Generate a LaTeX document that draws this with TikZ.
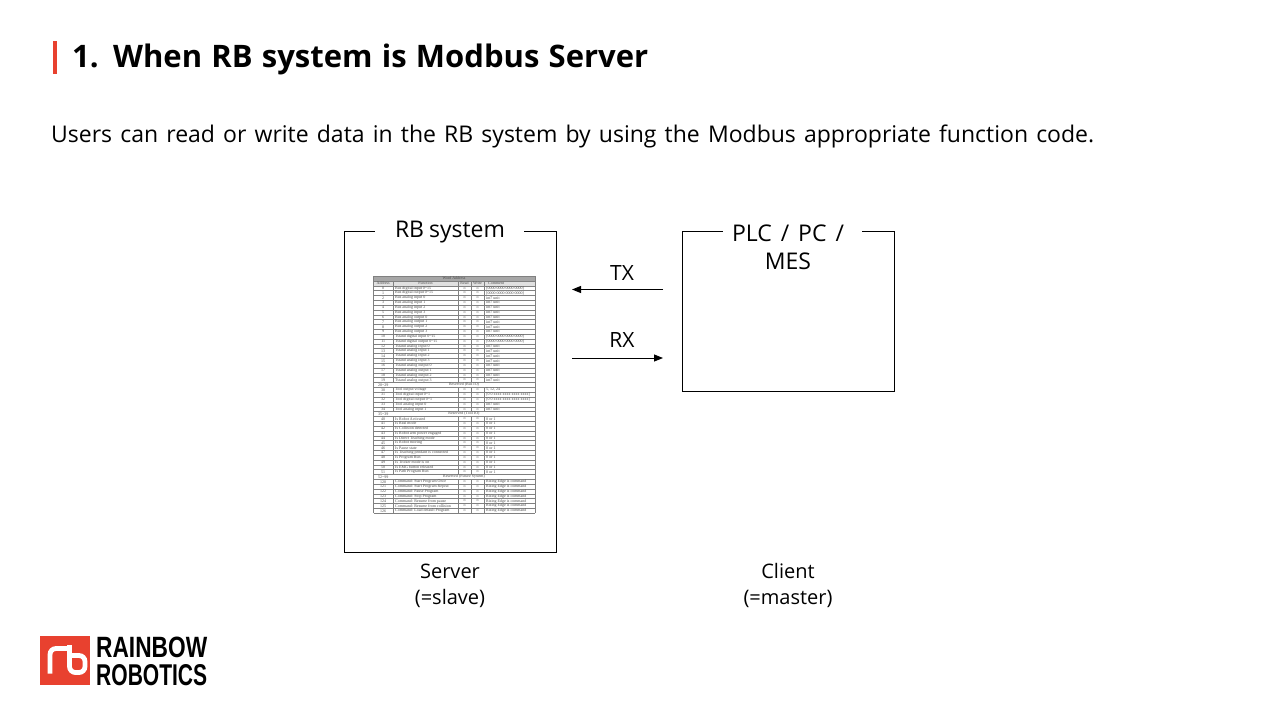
\documentclass[tikz,border=0pt]{standalone}
\usepackage{fontspec}
\setmainfont{Open Sans}
\newfontfamily\logofont{Liberation Sans}
\newfontfamily\tablefont{Liberation Serif}
\definecolor{rbred}{HTML}{E8412F}
\usetikzlibrary{arrows.meta}
\tikzset{
  label text/.style={font=\fontsize{23}{23}\selectfont,text=black,inner sep=0pt,anchor=base},
  small text/.style={font=\fontsize{20}{20}\selectfont,text=black,inner sep=0pt,anchor=base},
  frame/.style={draw=black,line width=0.9pt},
  gapfill/.style={fill=white,draw=none,inner sep=0pt},
  link/.style={draw=black,line width=0.9pt,-{Triangle[length=9pt,width=7pt]}},
  cell/.style={font=\tablefont\fontsize{4}{4}\selectfont,text=black!70,inner sep=0pt,anchor=center},
  cellw/.style={cell,anchor=west},
  grid/.style={draw=black!50,line width=0.3pt},
  logotext/.style={font=\logofont\bfseries,text=black,inner sep=0pt,anchor=north west},
  rbstroke/.style={draw=white,line width=4.8pt,line cap=butt,rounded corners=6pt}
}
\begin{document}
\begin{tikzpicture}[x=1pt,y=-1pt]
\useasboundingbox (0,0) rectangle (1280,720);
\fill[white] (0,0) rectangle (1280,720);

% heading
\fill[rbred] (52.7,41) rectangle (56.5,74);
\node[inner sep=0pt,anchor=base west,font=\fontsize{31}{31}\selectfont\bfseries] (title) at (72,67)
  {\makebox[576pt][s]{1. When RB system is Modbus Server}};
\node[inner sep=0pt,anchor=base west,font=\fontsize{23}{23}\selectfont] (intro) at (51,142)
  {\makebox[1043pt][s]{Users can read or write data in the RB system by using the Modbus appropriate function code.}};

% frames
\node[frame,minimum width=212pt,minimum height=321pt,inner sep=0pt,anchor=north west] (rb) at (344.2,231) {};
\node[frame,minimum width=212pt,minimum height=160pt,inner sep=0pt,anchor=north west] (plc) at (682.2,231) {};
\node[gapfill,minimum width=149pt,minimum height=6pt] (rbgap) at (449,231) {};
\node[gapfill,minimum width=139pt,minimum height=6pt] (plcgap) at (792.5,231) {};
\node[label text] (rblabel) at (450,237) {\makebox[110pt][s]{RB system}};
\node[label text] (plclabel) at (788,241) {\makebox[112pt][s]{PLC / PC /}};
\node[label text] (meslabel) at (788,269) {MES};

% connectors
\coordinate (txfrom) at (663,289.5);
\coordinate (txto) at (572,289.5);
\coordinate (rxfrom) at (572,358);
\coordinate (rxto) at (663,358);
\draw[link] (txfrom) -- (txto);
\draw[link] (rxfrom) -- (rxto);
\node[small text,font=\fontsize{21}{21}\selectfont] (txlabel) at (622,280) {TX};
\node[small text,font=\fontsize{21}{21}\selectfont] (rxlabel) at (622,347) {RX};

% captions
\node[small text] (server) at (450,578) {Server};
\node[small text] (slave) at (450,604) {(=slave)};
\node[small text] (client) at (788,578) {Client};
\node[small text] (master) at (788,604) {(=master)};

% register table
\fill[black!35] (373.5,276) rectangle (535,280.84);
\fill[black!12] (373.5,280.84) rectangle (535,285.68);
\foreach \i in {0,...,49}{
  \pgfmathsetmacro{\yy}{276+4.84*\i}
  \draw[grid] (373.5,\yy) -- (535,\yy);
}
\draw[grid] (373.5,276) -- (373.5,513.16);
\draw[grid] (535,276) -- (535,513.16);
\foreach \x in {393,458,471,484}{
  \draw[grid] (\x,280.84) -- (\x,382.48);
  \draw[grid] (\x,387.32) -- (\x,411.52);
  \draw[grid] (\x,416.36) -- (\x,474.44);
  \draw[grid] (\x,479.28) -- (\x,513.16);
}
\node[cell] (th0) at (454,278.42) {Word Address};
\node[cell] (th1) at (383.2,283.26) {Address};
\node[cell] (th2) at (425.5,283.26) {Function};
\node[cell] (th3) at (464.5,283.26) {Read};
\node[cell] (th4) at (477.5,283.26) {Write};
\node[cell] (th5) at (496,283.26) {Comment};
\foreach \r/\a/\f/\c in {
 2/0/{Bus digital input 0\textasciitilde15}/{[0000 0000 0000 0000]},
 3/1/{Bus digital output 0\textasciitilde15}/{[0000 0000 0000 0000]},
 4/2/{Bus analog input 0}/{int7 unit},
 5/3/{Bus analog input 1}/{int7 unit},
 6/4/{Bus analog input 2}/{int7 unit},
 7/5/{Bus analog input 3}/{int7 unit},
 8/6/{Bus analog output 0}/{int7 unit},
 9/7/{Bus analog output 1}/{int7 unit},
 10/8/{Bus analog output 2}/{int7 unit},
 11/9/{Bus analog output 3}/{int7 unit},
 12/10/{Tstand digital input 0\textasciitilde15}/{[0000 0000 0000 0000]},
 13/11/{Tstand digital output 0\textasciitilde15}/{[0000 0000 0000 0000]},
 14/12/{Tstand analog input 0}/{int7 unit},
 15/13/{Tstand analog input 1}/{int7 unit},
 16/14/{Tstand analog input 2}/{int7 unit},
 17/15/{Tstand analog input 3}/{int7 unit},
 18/16/{Tstand analog output 0}/{int7 unit},
 19/17/{Tstand analog output 1}/{int7 unit},
 20/18/{Tstand analog output 2}/{int7 unit},
 21/19/{Tstand analog output 3}/{int7 unit},
 23/30/{Tool output voltage}/{5, 12, 24},
 24/31/{Tool digital input 0\textasciitilde1}/{[0 0 xxxx xxxx xxxx xxxx]},
 25/32/{Tool digital output 0\textasciitilde1}/{[0 0 xxxx xxxx xxxx xxxx]},
 26/33/{Tool analog input 0}/{int7 unit},
 27/34/{Tool analog input 1}/{int7 unit},
 29/40/{Is Robot Activated}/{0 or 1},
 30/41/{Is Real mode}/{0 or 1},
 31/42/{Is Collision detected}/{0 or 1},
 32/43/{Is Robot arm power engaged}/{0 or 1},
 33/44/{Is Direct Teaching mode}/{0 or 1},
 34/45/{Is Robot moving}/{0 or 1},
 35/46/{Is Pause state}/{0 or 1},
 36/47/{Is Teaching pendant is connected}/{0 or 1},
 37/48/{Is Program Run}/{0 or 1},
 38/49/{Is Tricker mode is on}/{0 or 1},
 39/50/{Is EMG button released}/{0 or 1},
 40/51/{Is Path Program Run}/{0 or 1},
 42/120/{Command: Start Program Once}/{Rising Edge is command},
 43/121/{Command: Start Program Repeat}/{Rising Edge is command},
 44/122/{Command: Pause Program}/{Rising Edge is command},
 45/123/{Command: Stop Program}/{Rising Edge is command},
 46/124/{Command: Resume from pause}/{Rising Edge is command},
 47/125/{Command: Resume from collision}/{Rising Edge is command},
 48/126/{Command: Load default Program}/{Rising Edge is command}%
}{
  \pgfmathsetmacro{\yy}{276+4.84*\r+2.42}
  \node[cell] (addr\r) at (383.2,\yy) {\a};
  \node[cellw] (func\r) at (395,\yy) {\f};
  \node[cell] (read\r) at (464.5,\yy) {o};
  \node[cell] (write\r) at (477.5,\yy) {o};
  \node[cellw] (comm\r) at (486,\yy) {\c};
}
\foreach \r/\a/\t in {22/{20\textasciitilde29}/{Reserved (Bus IO)},28/{35\textasciitilde39}/{Reserved (Tool IO)},41/{52\textasciitilde99}/{Reserved (Future System)}}{
  \pgfmathsetmacro{\yy}{276+4.84*\r+2.42}
  \node[cell] (raddr\r) at (383.2,\yy) {\a};
  \node[cell] (rtext\r) at (464,\yy) {\t};
}

% logo
\fill[rbred] (40,636) rectangle (90,685);
\draw[rbstroke] (50,673.5) -- (50,648.5) -- (68,648.5);
\draw[rbstroke] (69.5,645) -- (69.5,672.5) -- (85,672.5) -- (85,655.5) -- (69.5,655.5);
\node[logotext] (logo1) at (96,637) {\resizebox{111pt}{20.5pt}{RAINBOW}};
\node[logotext] (logo2) at (96,664.5) {\resizebox{111pt}{21pt}{ROBOTICS}};
\end{tikzpicture}
\end{document}
